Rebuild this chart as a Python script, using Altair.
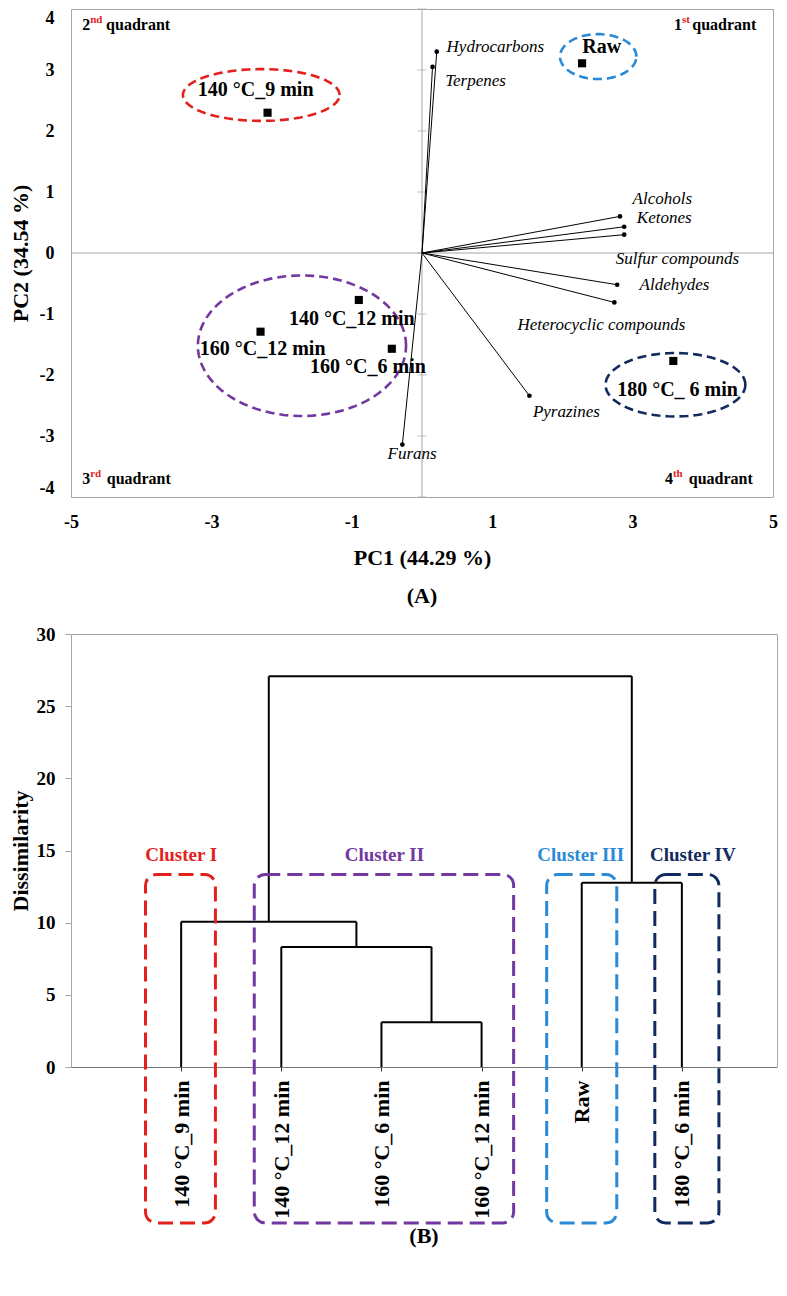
import json
import altair as alt
import pandas as pd

FONT = "Liberation Serif"
GRAY = "#a6a6a6"

# ---------------- Panel A : PCA biplot ----------------
sample_names = ["140 °C_9 min", "Raw", "140 °C_12 min", "160 °C_12 min", "160 °C_6 min", "180 °C_ 6 min"]
sample_pc1 = [-2.20, 2.28, -0.90, -2.30, -0.43, 3.58]
sample_pc2 = [2.30, 3.11, -0.77, -1.29, -1.57, -1.77]
sample_label_x = [-2.37, 2.56, -1.00, -2.27, -0.77, 3.64]
sample_label_y = [2.67, 3.38, -1.09, -1.58, -1.87, -2.24]

loading_names = ["Hydrocarbons", "Terpenes", "Alcohols", "Ketones", "Sulfur compounds",
                 "Aldehydes", "Heterocyclic compounds", "Pyrazines", "Furans"]
loading_pc1 = [0.21, 0.15, 2.82, 2.88, 2.88, 2.78, 2.74, 1.53, -0.28]
loading_pc2 = [3.30, 3.05, 0.60, 0.43, 0.30, -0.52, -0.81, -2.34, -3.14]
loading_label_x = [0.35, 0.33, 3.00, 3.06, 2.76, 3.10, 1.36, 1.58, -0.49]
loading_label_y = [3.37, 2.82, 0.885, 0.58, -0.10, -0.52, -1.18, -2.60, -3.30]

group_colors = ["#e3211c", "#2b8ad6", "#7338a0", "#132a5e"]
group_center_x = [-2.29, 2.51, -1.71, 3.61]
group_center_y = [2.59, 3.22, -1.52, -2.16]
group_radius_x = [1.116, 0.544, 1.483, 0.996]
group_radius_y = [0.424, 0.368, 1.152, 0.520]

quad_num = ["2", "1", "3", "4"]
quad_sup = ["nd", "st", "rd", "th"]
quad_x = [-4.84, 3.59, -4.84, 3.46]
quad_y = [3.74, 3.74, -3.70, -3.71]
quad_word_x = [-4.50, 3.85, -4.49, 3.80]

x_ticks_a = [-5, -3, -1, 1, 3, 5]
y_ticks_a = [-4, -3, -2, -1, 0, 1, 2, 3, 4]

# ---------------- Panel B : dendrogram ----------------
leaf_names = ["140 °C_9 min", "140 °C_12 min", "160 °C_6 min", "160 °C_12 min", "Raw", "180 °C_6 min"]
merge_a = ["L3", "L2", "L1", "L5", "M3"]
merge_b = ["L4", "M1", "M2", "L6", "M4"]
merge_height = [3.10, 8.32, 10.06, 12.76, 27.07]

cluster_names = ["Cluster I", "Cluster II", "Cluster III", "Cluster IV"]
cluster_colors = ["#e3211c", "#7338a0", "#2b8ad6", "#132a5e"]
cluster_box_x1 = [0.644, 1.73, 4.65, 5.73]
cluster_box_x2 = [1.342, 4.32, 5.35, 6.37]
cluster_box_top = [13.34, 13.34, 13.34, 13.34]
cluster_box_bottom = [-10.8, -10.8, -10.8, -10.8]
cluster_label_x = [1.00, 3.03, 4.99, 6.11]
cluster_label_y = [14.72, 14.72, 14.72, 14.72]

y_ticks_b = [0, 5, 10, 15, 20, 25, 30]

# ======================================================
xs_a = alt.Scale(domain=[-5, 5], nice=False, zero=False)
ys_a = alt.Scale(domain=[-4, 4], nice=False, zero=False)
PLAIN = "'' + datum.value"


def ax(field):
    return alt.X(field, type="quantitative", scale=xs_a)


def ay(field):
    return alt.Y(field, type="quantitative", scale=ys_a)


samples = pd.DataFrame({"name": sample_names, "pc1": sample_pc1, "pc2": sample_pc2,
                        "lx": sample_label_x, "ly": sample_label_y})
loadings = pd.DataFrame({"name": loading_names, "pc1": loading_pc1, "pc2": loading_pc2,
                         "lx": loading_label_x, "ly": loading_label_y,
                         "x0": [0.0] * len(loading_names), "y0": [0.0] * len(loading_names)})
quads = pd.DataFrame({"num": quad_num, "sup": quad_sup, "x": quad_x, "y": quad_y, "wx": quad_word_x})
tick_df = pd.DataFrame({"v": y_ticks_a, "zero": [0.0] * len(y_ticks_a)})
zero_df = pd.DataFrame({"x1": [x_ticks_a[0], 0.0], "x2": [x_ticks_a[-1], 0.0],
                        "y1": [0.0, y_ticks_a[0]], "y2": [0.0, y_ticks_a[-1]]})

base_points = alt.Chart(samples).mark_point(shape="square", filled=True, size=66, color="black", opacity=1).encode(
    x=alt.X("pc1:Q", scale=xs_a, title="PC1 (44.29 %)",
            axis=alt.Axis(values=x_ticks_a, labelExpr=PLAIN, grid=False, ticks=False, tickSize=0, domain=False,
                          labelFlush=False, labelPadding=16, labelFontSize=18,
                          titleFontSize=22, titlePadding=16)),
    y=alt.Y("pc2:Q", scale=ys_a, title="PC2 (34.54 %)",
            axis=alt.Axis(values=y_ticks_a, labelExpr=PLAIN, grid=False, ticks=False, tickSize=0, domain=False,
                          labelFlush=True, labelPadding=17, labelFontSize=18,
                          titleFontSize=22, titlePadding=7)),
)

zero_lines = alt.Chart(zero_df).mark_rule(color=GRAY, strokeWidth=1).encode(
    x=ax("x1"), x2="x2:Q", y=ay("y1"), y2="y2:Q")
zero_ticks = alt.Chart(tick_df).mark_tick(orient="horizontal", size=9, thickness=1, color=GRAY).encode(
    x=ax("zero"), y=ay("v"))

sample_text = alt.Chart(samples).mark_text(font=FONT, fontSize=20, fontWeight="bold", color="black",
                                           align="center", baseline="middle").encode(
    x=ax("lx"), y=ay("ly"), text="name:N")

load_lines = alt.Chart(loadings).mark_rule(color="black", strokeWidth=1).encode(
    x=ax("x0"), y=ay("y0"), x2="pc1:Q", y2="pc2:Q")
load_pts = alt.Chart(loadings).mark_point(shape="circle", filled=True, size=22, color="black", opacity=1).encode(
    x=ax("pc1"), y=ay("pc2"))
load_text = alt.Chart(loadings).mark_text(font=FONT, fontSize=17, fontStyle="italic", color="black",
                                          align="left", baseline="middle").encode(
    x=ax("lx"), y=ay("ly"), text="name:N")

ellipses = []
for cx, cy, rx, ry, col in zip(group_center_x, group_center_y, group_radius_x, group_radius_y, group_colors):
    ellipses.append(
        alt.Chart(alt.sequence(0, 361, 4, as_="deg")).transform_calculate(
            ex=f"{cx} + {rx} * cos(datum.deg * PI / 180)",
            ey=f"{cy} + {ry} * sin(datum.deg * PI / 180)",
        ).mark_line(color=col, strokeWidth=2.6, strokeDash=[9, 5]).encode(
            x=ax("ex"), y=ay("ey"), order="deg:Q"))

quad_num_t = alt.Chart(quads).mark_text(font=FONT, fontSize=16, fontWeight="bold", color="black",
                                        align="left", baseline="middle").encode(
    x=ax("x"), y=ay("y"), text="num:N")
quad_sup_t = alt.Chart(quads).mark_text(font=FONT, fontSize=11, fontWeight="bold", color="#e3211c",
                                        align="left", baseline="middle", dx=8, dy=-5).encode(
    x=ax("x"), y=ay("y"), text="sup:N")
quad_word_t = alt.Chart(quads).mark_text(font=FONT, fontSize=16, fontWeight="bold", color="black",
                                         align="left", baseline="middle", text="quadrant").encode(
    x=ax("wx"), y=ay("y"))

panel_a = alt.layer(
    base_points, zero_lines, zero_ticks, load_lines, load_pts, load_text, *ellipses,
    sample_text, quad_num_t, quad_sup_t, quad_word_t
).properties(
    width=702, height=488,
    title=alt.TitleParams("(A)", orient="bottom", font=FONT, fontSize=22, fontWeight="bold",
                          color="black", offset=18)
)

# ---------------- Panel B build ----------------
node_x = {f"L{i+1}": float(i + 1) for i in range(len(leaf_names))}
node_h = {f"L{i+1}": 0.0 for i in range(len(leaf_names))}
segs = []
for j, (a, b, h) in enumerate(zip(merge_a, merge_b, merge_height)):
    xa, xb = node_x[a], node_x[b]
    segs.append({"x": xa, "x2": xa, "y": node_h[a], "y2": h})
    segs.append({"x": xb, "x2": xb, "y": node_h[b], "y2": h})
    segs.append({"x": xa, "x2": xb, "y": h, "y2": h})
    node_x[f"M{j+1}"] = (xa + xb) / 2
    node_h[f"M{j+1}"] = h
seg_df = pd.DataFrame(segs)

xs_b = alt.Scale(domain=[-0.1, 6.95], nice=False, zero=False)
ys_b = alt.Scale(domain=[0, 30], nice=False, zero=False)

label_expr = json.dumps(leaf_names, ensure_ascii=False) + "[datum.value - 1]"

dendro = alt.Chart(seg_df).mark_rule(color="black", strokeWidth=2).encode(
    x=alt.X("x:Q", scale=xs_b, title=None,
            axis=alt.Axis(values=[1, 2, 3, 4, 5, 6], labelExpr=label_expr, grid=False,
                          labelAngle=270, labelAlign="right", labelBaseline="middle",
                          labelFontSize=22, labelPadding=9, tickSize=4, tickColor="#333333",
                          domainColor="#444444", domainDash=[1, 1])),
    x2="x2:Q",
    y=alt.Y("y:Q", scale=ys_b, title="Dissimilarity",
            axis=alt.Axis(values=y_ticks_b, labelExpr=PLAIN, grid=False, tickSize=6, tickColor=GRAY,
                          domainColor=GRAY, labelFontSize=19, labelPadding=10, titleFontSize=22,
                          titlePadding=4)),
    y2="y2:Q",
)

clusters = pd.DataFrame({"name": cluster_names, "color": cluster_colors,
                         "x1": cluster_box_x1, "x2": cluster_box_x2,
                         "top": cluster_box_top, "bottom": cluster_box_bottom,
                         "lx": cluster_label_x, "ly": cluster_label_y})

boxes = alt.Chart(clusters).mark_rect(cornerRadius=11, fillOpacity=0, strokeWidth=3, strokeDash=[15, 7]).encode(
    x=alt.X("x1:Q", scale=xs_b), x2="x2:Q",
    y=alt.Y("top:Q", scale=ys_b), y2="bottom:Q",
    stroke=alt.Stroke("color:N", scale=None))

cluster_text = alt.Chart(clusters).mark_text(font=FONT, fontSize=19, fontWeight="bold",
                                             align="center", baseline="middle").encode(
    x=alt.X("lx:Q", scale=xs_b), y=alt.Y("ly:Q", scale=ys_b),
    text="name:N", color=alt.Color("color:N", scale=None))

panel_b = alt.layer(dendro, boxes, cluster_text).properties(
    width=706, height=433,
    title=alt.TitleParams("(B)", orient="bottom", font=FONT, fontSize=22, fontWeight="bold",
                          color="black", offset=2)
)

chart = alt.concat(panel_a, panel_b, columns=1, spacing=16, align="none").properties(
    padding=0
).configure_view(
    stroke=GRAY, strokeWidth=1
).configure_axis(
    labelFont=FONT, titleFont=FONT, labelFontWeight="bold", titleFontWeight="bold",
    labelColor="black", titleColor="black"
)

chart.save("out.html", embed_options={"renderer": "svg", "actions": False})
